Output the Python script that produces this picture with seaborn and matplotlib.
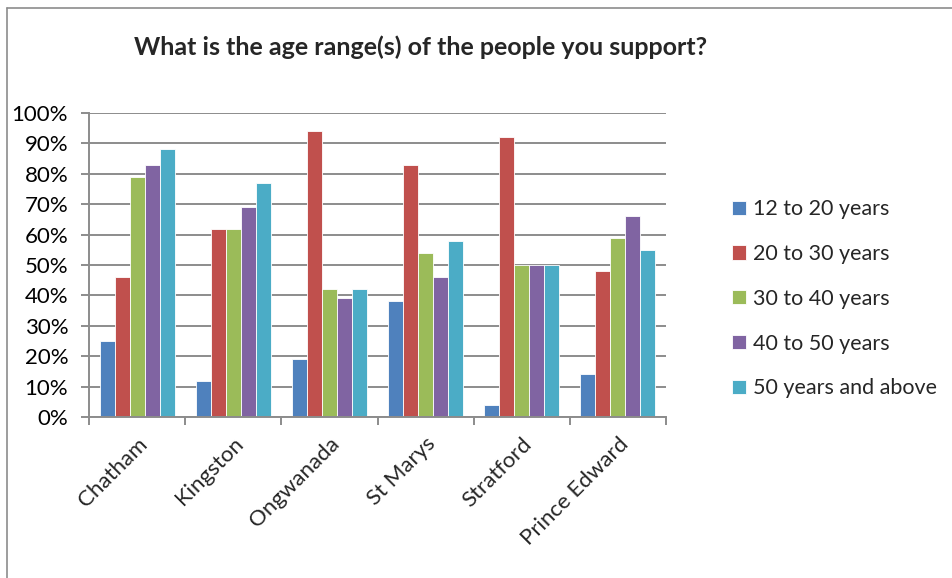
import matplotlib
matplotlib.use("Agg")

import matplotlib.pyplot as plt
import matplotlib.ticker as mticker
from matplotlib.lines import Line2D
import numpy as np
import pandas as pd
import seaborn as sns

# Data (percent of respondents)
sites = ["Chatham", "Kingston", "Ongwanada", "St Marys", "Stratford", "Prince Edward"]
age_groups = ["12 to 20 years", "20 to 30 years", "30 to 40 years", "40 to 50 years", "50 years and above"]
age_12_20 = [25, 12, 19, 38, 4, 14]
age_20_30 = [46, 62, 94, 83, 92, 48]
age_30_40 = [79, 62, 42, 54, 50, 59]
age_40_50 = [83, 69, 39, 46, 50, 66]
age_50_up = [88, 77, 42, 58, 50, 55]

colors = ["#4F81BD", "#C0504D", "#9BBB59", "#8064A2", "#4BACC6"]

df = pd.DataFrame({"site": sites,
                   age_groups[0]: age_12_20,
                   age_groups[1]: age_20_30,
                   age_groups[2]: age_30_40,
                   age_groups[3]: age_40_50,
                   age_groups[4]: age_50_up})
df_long = df.melt(id_vars="site", var_name="age", value_name="pct")

sns.set_theme(style="white")
plt.rcParams['font.family'] = ['Lato', 'DejaVu Sans']

fig = plt.figure(figsize=(9.52, 5.78), dpi=100)
ax = fig.add_axes([0.0935, 0.2785, 0.6061, 0.526])

sns.barplot(data=df_long, x="site", y="pct", hue="age", order=sites, hue_order=age_groups,
            palette=colors, saturation=1, width=0.78, edgecolor="white", linewidth=0.6, ax=ax)

ax.set_ylim(0, 100)
ax.set_xlim(-0.5, len(sites) - 0.5)
ax.yaxis.set_major_locator(mticker.MultipleLocator(10))
ax.yaxis.set_major_formatter(mticker.PercentFormatter(decimals=0))
ax.yaxis.grid(True, color="#8c8c8c", linewidth=1.4)
ax.set_axisbelow(True)
ax.set_xlabel("")
ax.set_ylabel("")

for side in ["top", "right"]:
    ax.spines[side].set_visible(False)
for side in ["left", "bottom"]:
    ax.spines[side].set_color("#8c8c8c")
    ax.spines[side].set_linewidth(1.4)

# ticks between categories on the x axis, like the original
ax.set_xticks(np.arange(len(sites)))
ax.set_xticks(np.arange(-0.5, len(sites)), minor=True)
ax.tick_params(axis="x", which="major", length=0, pad=12)
ax.tick_params(axis="x", which="minor", length=6, width=1.4, color="#8c8c8c", direction="out", bottom=True)
ax.tick_params(axis="y", length=6, width=1.4, color="#8c8c8c", direction="out", left=True, labelsize=16, pad=9)
ax.set_xticklabels(sites, rotation=45, ha="right", rotation_mode="anchor", fontsize=16)
for lbl in ax.get_yticklabels():
    lbl.set_color("black")

leg = ax.legend(loc="center left", bbox_to_anchor=(0.769, 0.483), bbox_transform=fig.transFigure,
                frameon=False, fontsize=15.5, handlelength=0.65, handleheight=0.65,
                handletextpad=0.3, labelspacing=1.15, borderaxespad=0, borderpad=0)

fig.text(0.442, 0.918, "What is the age range(s) of the people you support?",
         ha="center", va="center", fontsize=18, fontweight="bold")

# outer chart border (top and left edges visible in the crop)
fig.add_artist(Line2D([0.0075, 1.0], [0.986, 0.986], transform=fig.transFigure, color="#8c8c8c", linewidth=1.2))
fig.add_artist(Line2D([0.0075, 0.0075], [0.0, 0.986], transform=fig.transFigure, color="#8c8c8c", linewidth=1.2))

fig.savefig("out.png", dpi=100, facecolor="white")
